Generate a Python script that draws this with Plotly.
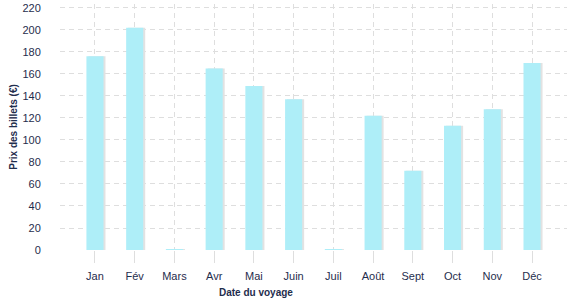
import plotly.graph_objects as go

months = ["Jan", "Fév", "Mars", "Avr", "Mai", "Juin", "Juil", "Août", "Sept", "Oct", "Nov", "Déc"]
prices = [176, 202, 0.8, 165, 149, 137, 0.8, 122, 72, 113, 128, 170]
y_ticks = list(range(0, 221, 20))

W = 0.43
fig = go.Figure()
# soft shadow
fig.add_trace(go.Bar(x=months, y=prices, width=W, offset=-W/2 + 0.05,
                     marker=dict(color="#e2e2e2", line=dict(width=0)),
                     hoverinfo="skip", showlegend=False))
fig.add_trace(go.Bar(x=months, y=prices, width=W, offset=-W/2,
                     marker=dict(color="#aeeef8", line=dict(width=0)),
                     showlegend=False))

font = dict(family="Liberation Sans, Arial, sans-serif", color="#1f2d4d", size=11)
fig.update_layout(
    width=577, height=300, barmode="overlay",
    margin=dict(l=60, r=10, t=2, b=50),
    paper_bgcolor="white", plot_bgcolor="white",
    font=font,
    xaxis=dict(type="category", range=[-0.88, 11.88],
               showgrid=True, gridcolor="#dedede", griddash="5px,4px", gridwidth=1,
               ticks="outside", ticklen=12, tickcolor="#dedede", ticklabelstandoff=4,
               showline=False, zeroline=False, tickfont=font),
    yaxis=dict(range=[0, 223.6], tickmode="array", tickvals=y_ticks,
               ticktext=[str(v) for v in y_ticks], ticklabeloverflow="allow",
               showgrid=True, gridcolor="#dedede", griddash="5px,4px", gridwidth=1,
               ticks="outside", ticklen=16, tickcolor="rgba(0,0,0,0)",
               showline=False, zeroline=False, tickfont=font,
               title=dict(text="<b>Prix des billets (€)</b>", font=dict(size=10, family=font["family"], color="#1f2d4d"), standoff=2)),
    annotations=[dict(text="<b>Date du voyage</b>", xref="paper", yref="paper",
                      x=0.387, y=0, yshift=-50, showarrow=False,
                      font=dict(size=10, family=font["family"], color="#1f2d4d"))],
)
fig.write_html("out.html")
